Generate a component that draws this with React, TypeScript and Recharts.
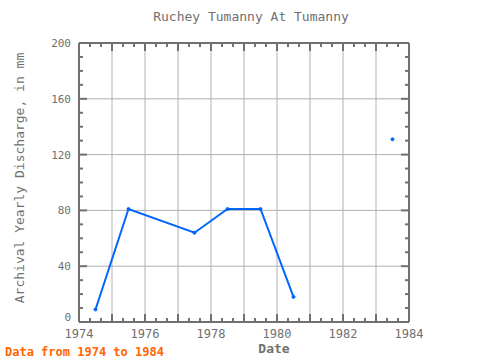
import { CartesianGrid, Line, LineChart, XAxis, YAxis } from "recharts"

const years = [1974.5, 1975.5, 1977.5, 1978.5, 1979.5, 1980.5, 1981.5, 1982.5, 1983.5]
const discharge = [9, 81, 64, 81, 81, 18, null, null, 131]
const yearTicks = [1974, 1975, 1976, 1977, 1978, 1979, 1980, 1981, 1982, 1983, 1984]
const yearLabels = [1974, 1976, 1978, 1980, 1982, 1984]
const valueTicks = [0, 40, 80, 120, 160, 200]

const data = years.map((year, i) => ({ year, value: discharge[i] }))

const minorYears: number[] = []
for (let y = 1974; y < 1984; y++) {
  minorYears.push(y + 1 / 3, y + 2 / 3)
}
const xTicks = [...yearTicks, ...minorYears].sort((a, b) => a - b)
const minorValues: number[] = []
for (let v = 0; v <= 200; v += 10) minorValues.push(v)

const axisColor = "#707070"
const font = "'DejaVu Sans Mono', monospace"

const isMajorYear = (v: number) => Math.abs(v - Math.round(v)) < 1e-6
const isMajorValue = (v: number) => v % 40 === 0

function XTick(props: any) {
  const { x, y, payload, side } = props
  const v = payload.value
  const len = isMajorYear(v) ? 8 : 4
  const dir = side === "top" ? 1 : -1
  const showLabel = side !== "top" && yearLabels.includes(Math.round(v)) && isMajorYear(v)
  return (
    <g>
      <line x1={x} y1={y} x2={x} y2={y + dir * len} stroke={axisColor} strokeWidth={2} />
      {showLabel && (
        <text x={x} y={y + 16} textAnchor="middle" fill={axisColor} fontSize={12} fontFamily={font}>
          {Math.round(v)}
        </text>
      )}
    </g>
  )
}

function YTick(props: any) {
  const { x, y, payload, side } = props
  const v = payload.value
  const len = isMajorValue(v) ? 8 : 4
  const dir = side === "right" ? -1 : 1
  const showLabel = side !== "right" && valueTicks.includes(v)
  return (
    <g>
      <line x1={x} y1={y} x2={x + dir * len} y2={y} stroke={axisColor} strokeWidth={2} />
      {showLabel && (
        <text
          x={x - 8}
          y={v === 0 ? y - 1 : y + 4}
          textAnchor="end"
          fill={axisColor}
          fontSize={11}
          fontFamily={font}
        >
          {v}
        </text>
      )}
    </g>
  )
}

export default function App() {
  return (
    <div style={{ position: "absolute", left: 0, top: 0, width: 480, height: 360, background: "#fff" }}>
      <LineChart width={480} height={360} data={data} margin={{ top: 42, right: 70, bottom: 18, left: 39 }}>
        <CartesianGrid
          stroke="#b0b0b0"
          strokeWidth={1}
          verticalValues={yearTicks}
          horizontalValues={valueTicks}
        />
        <XAxis
          dataKey="year"
          type="number"
          domain={[1974, 1984]}
          ticks={xTicks}
          interval={0}
          height={20}
          tickSize={0}
          tickMargin={0}
          tickLine={false}
          axisLine={{ stroke: axisColor, strokeWidth: 2 }}
          tick={(p: any) => <XTick {...p} side="bottom" />}
        />
        <XAxis
          xAxisId="top"
          dataKey="year"
          orientation="top"
          type="number"
          domain={[1974, 1984]}
          ticks={xTicks}
          interval={0}
          height={1}
          tickSize={0}
          tickMargin={0}
          tickLine={false}
          axisLine={{ stroke: axisColor, strokeWidth: 2 }}
          tick={(p: any) => <XTick {...p} side="top" />}
        />
        <YAxis
          type="number"
          domain={[0, 200]}
          ticks={minorValues}
          interval={0}
          width={40}
          tickSize={0}
          tickMargin={0}
          tickLine={false}
          axisLine={{ stroke: axisColor, strokeWidth: 2 }}
          tick={(p: any) => <YTick {...p} side="left" />}
        />
        <YAxis
          yAxisId="right"
          orientation="right"
          type="number"
          domain={[0, 200]}
          ticks={minorValues}
          interval={0}
          width={1}
          tickSize={0}
          tickMargin={0}
          tickLine={false}
          axisLine={{ stroke: axisColor, strokeWidth: 2 }}
          tick={(p: any) => <YTick {...p} side="right" />}
        />
        <Line
          xAxisId="top"
          yAxisId="right"
          dataKey="value"
          stroke="none"
          dot={false}
          activeDot={false}
          legendType="none"
          isAnimationActive={false}
        />
        <Line
          dataKey="value"
          type="linear"
          stroke="#0066ff"
          strokeWidth={2}
          dot={{ r: 1.5, fill: "#0066ff", stroke: "#0066ff", strokeWidth: 1 }}
          connectNulls={false}
          isAnimationActive={false}
        />
      </LineChart>
      <div
        style={{
          position: "absolute",
          left: 0,
          top: 9,
          width: 502,
          textAlign: "center",
          fontFamily: font,
          fontSize: 13,
          color: axisColor,
          whiteSpace: "nowrap",
        }}
      >
        Ruchey Tumanny At Tumanny
      </div>
      <div
        style={{
          position: "absolute",
          left: 19,
          top: 178,
          transform: "translate(-50%, -50%) rotate(-90deg)",
          fontFamily: font,
          fontSize: 13,
          color: axisColor,
          whiteSpace: "nowrap",
        }}
      >
        Archival Yearly Discharge, in mm
      </div>
      <div
        style={{
          position: "absolute",
          left: 274,
          top: 348,
          transform: "translate(-50%, -50%)",
          fontFamily: font,
          fontSize: 13,
          fontWeight: "bold",
          color: axisColor,
          whiteSpace: "nowrap",
        }}
      >
        Date
      </div>
      <div
        style={{
          position: "absolute",
          left: 5,
          top: 345,
          fontFamily: font,
          fontSize: 12,
          fontWeight: "bold",
          color: "#ff6600",
          whiteSpace: "nowrap",
        }}
      >
        Data from 1974 to 1984
      </div>
    </div>
  )
}
